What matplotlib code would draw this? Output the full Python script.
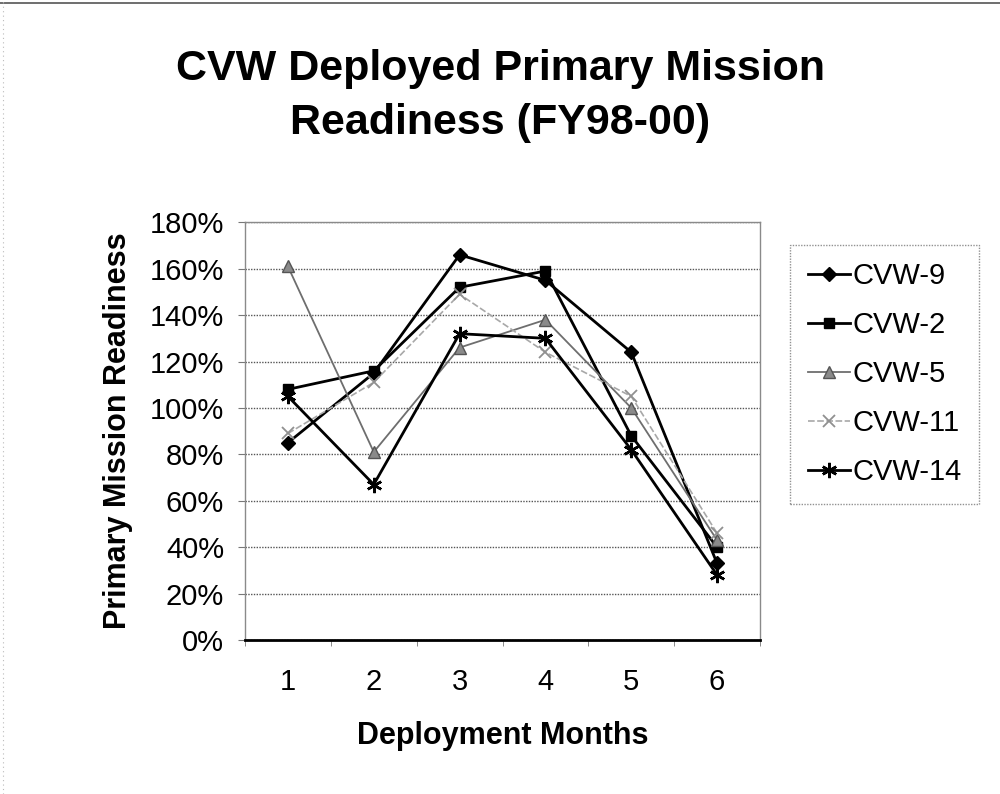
"""CVW deployed primary mission readiness line chart"""
import matplotlib
matplotlib.use('Agg')
import matplotlib.pyplot as plt
from matplotlib.lines import Line2D
from matplotlib.ticker import FixedLocator, PercentFormatter

plt.rcParams['font.family'] = ['Liberation Sans', 'DejaVu Sans']

# Data
months = [1, 2, 3, 4, 5, 6]
month_labels = ['1', '2', '3', '4', '5', '6']
cvw_9 = [85, 115, 166, 155, 124, 33]
cvw_2 = [108, 116, 152, 159, 88, 40]
cvw_5 = [161, 81, 126, 138, 100, 43]
cvw_11 = [89, 111, 149, 124, 105, 46]
cvw_14 = [105, 67, 132, 130, 82, 28]
series_names = ['CVW-9', 'CVW-2', 'CVW-5', 'CVW-11', 'CVW-14']
y_ticks = list(range(0, 181, 20))

fig = plt.figure(figsize=(10, 7.94), dpi=100)
ax = fig.add_axes([0.245, 0.194, 0.515, 0.526])

styles = [
    dict(color='black', lw=2.0, marker='D', ms=7.5, mfc='black', mec='black'),
    dict(color='black', lw=2.0, marker='s', ms=7.5, mfc='black', mec='black'),
    dict(color='#6e6e6e', lw=1.3, marker='^', ms=8, mfc='#8a8a8a', mec='#555555'),
    dict(color='#a8a8a8', lw=1.2, ls=(0, (4, 1.5)), marker='x', ms=9, mew=1.3,
         mec='#909090'),
    dict(color='black', lw=2.0, marker=(6, 2, 0), ms=11, mew=1.8, mec='black'),
]

for name, vals, st in zip(series_names, [cvw_9, cvw_2, cvw_5, cvw_11, cvw_14], styles):
    ax.plot(months, vals, label=name, **st)

ax.set_xlim(0.5, 6.5)
ax.set_ylim(0, 180)
ax.xaxis.set_major_locator(FixedLocator(months))
ax.set_xticklabels(month_labels)
ax.xaxis.set_minor_locator(FixedLocator([m + 0.5 for m in [0] + months]))
ax.tick_params(axis='x', which='major', length=0, pad=20, labelsize=21)
ax.tick_params(axis='x', which='minor', length=4, color='#777777', direction='out')
ax.yaxis.set_major_locator(FixedLocator(y_ticks))
ax.yaxis.set_major_formatter(PercentFormatter(decimals=0))
ax.tick_params(axis='y', length=5, color='#777777', pad=10, labelsize=21)

ax.grid(axis='y', color='#555555', lw=1.0, ls=(0, (1, 1)))
ax.set_axisbelow(True)
for side in ['top', 'right', 'left']:
    ax.spines[side].set_color('#8a8a8a')
    ax.spines[side].set_linestyle((0, (1, 1)))
    ax.spines[side].set_linewidth(1.0)
ax.spines['bottom'].set_color('black')
ax.spines['bottom'].set_linewidth(2.0)

ax.set_xlabel('Deployment Months', fontsize=22, fontweight='bold', labelpad=18)
ax.set_ylabel('Primary Mission Readiness', fontsize=22, fontweight='bold', labelpad=12)

fig.text(0.5, 0.879, 'CVW Deployed Primary Mission\nReadiness (FY98-00)',
         ha='center', va='center', fontsize=31, fontweight='bold', linespacing=1.45)

leg = ax.legend(loc='upper left', bbox_to_anchor=(0.79, 0.692), bbox_transform=fig.transFigure,
                fontsize=21, frameon=True, fancybox=False, handlelength=1.45,
                handletextpad=0.1, labelspacing=0.72, borderpad=0.6, borderaxespad=0)
leg.get_frame().set_edgecolor('#777777')
leg.get_frame().set_linestyle((0, (1, 1)))
leg.get_frame().set_linewidth(1.0)

# scanned page border
fig.add_artist(Line2D([0, 1], [0.996, 0.996], transform=fig.transFigure, color='#555555', lw=1.2))
fig.add_artist(Line2D([0.003, 0.003], [0, 1], transform=fig.transFigure, color='#bbbbbb',
                      lw=0.8, ls=(0, (1, 3))))

fig.savefig('out.png', dpi=100, facecolor='white')
